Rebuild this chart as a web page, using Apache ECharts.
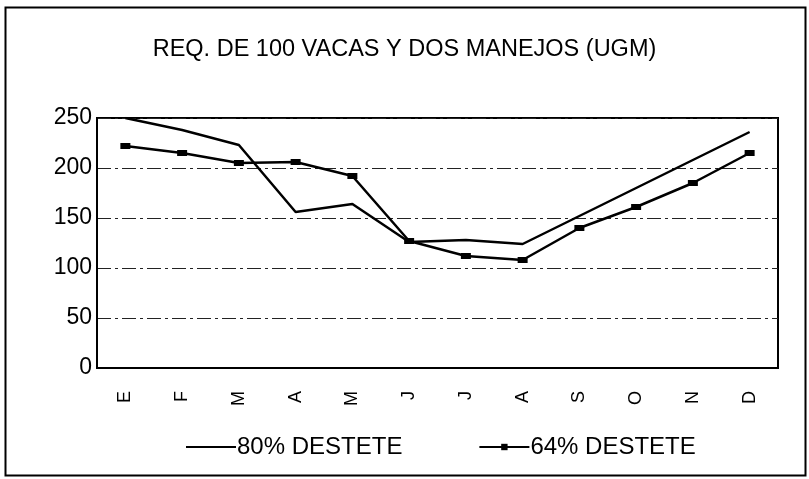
<!DOCTYPE html>
<html>
<head>
<meta charset="utf-8">
<script src="https://cdn.jsdelivr.net/npm/echarts@6/dist/echarts.min.js"></script>
<style>
  html, body { margin: 0; padding: 0; background: #fff; }
  #chart { width: 809px; height: 479px; }
</style>
</head>
<body>
<div id="chart"></div>
<script>
// months (spanish initials)
var meses = ['E', 'F', 'M', 'A', 'M', 'J', 'J', 'A', 'S', 'O', 'N', 'D'];
// requirements, 80% weaning
var destete80 = [250, 238, 223, 156, 164, 126, 128, 124, 152, 180, 208, 236];
// requirements, 64% weaning
var destete64 = [222, 215, 205, 206, 192, 127, 112, 108, 140, 161, 185, 215];
var yTicks = [0, 50, 100, 150, 200, 250];

var font = 'Liberation Sans, Arial, sans-serif';
var chart = echarts.init(document.getElementById('chart'));

var option = {
  backgroundColor: '#fff',
  animation: false,
  title: {
    text: 'REQ. DE 100 VACAS Y DOS MANEJOS (UGM)',
    left: 'center',
    top: 33,
    textStyle: { fontFamily: font, fontSize: 23.5, fontWeight: 'normal', color: '#000' }
  },
  legend: {
    bottom: 15,
    left: 180,
    itemGap: 76,
    itemWidth: 50,
    itemHeight: 8,
    textStyle: { fontFamily: font, fontSize: 24, color: '#000', padding: [0, 0, 0, -4] },
    data: [
      { name: '80% DESTETE', itemStyle: { opacity: 0 } },
      { name: '64% DESTETE' }
    ]
  },
  grid: { left: 97, right: 31, top: 118, bottom: 111, show: true, borderColor: '#000', borderWidth: 2 },
  xAxis: {
    type: 'category',
    data: meses,
    boundaryGap: true,
    axisLine: { lineStyle: { color: '#000', width: 2 } },
    axisTick: { show: false },
    axisLabel: { rotate: 90, margin: 23, fontFamily: font, fontSize: 18, color: '#000' }
  },
  yAxis: {
    type: 'value',
    min: yTicks[0],
    max: yTicks[yTicks.length - 1],
    interval: 50,
    axisLine: { show: true, lineStyle: { color: '#000', width: 2 } },
    axisTick: { show: false },
    splitLine: { lineStyle: { color: '#222', width: 1, type: [14, 4, 3, 4] } },
    axisLabel: { margin: 5, fontFamily: font, fontSize: 23, color: '#000' }
  },
  series: [
    {
      name: '80% DESTETE',
      type: 'line',
      data: destete80,
      showSymbol: false,
      symbol: 'none',
      lineStyle: { color: '#000', width: 2.5 },
      itemStyle: { color: '#000' }
    },
    {
      name: '64% DESTETE',
      type: 'line',
      data: destete64,
      symbol: 'rect',
      symbolSize: [10, 6],
      lineStyle: { color: '#000', width: 2.5 },
      itemStyle: { color: '#000' }
    }
  ],
  graphic: [
    {
      type: 'rect',
      left: 3, top: 5,
      shape: { width: 800, height: 468 },
      style: { fill: 'none', stroke: '#000', lineWidth: 2 },
      silent: true
    }
  ]
};

chart.setOption(option);
</script>
</body>
</html>
